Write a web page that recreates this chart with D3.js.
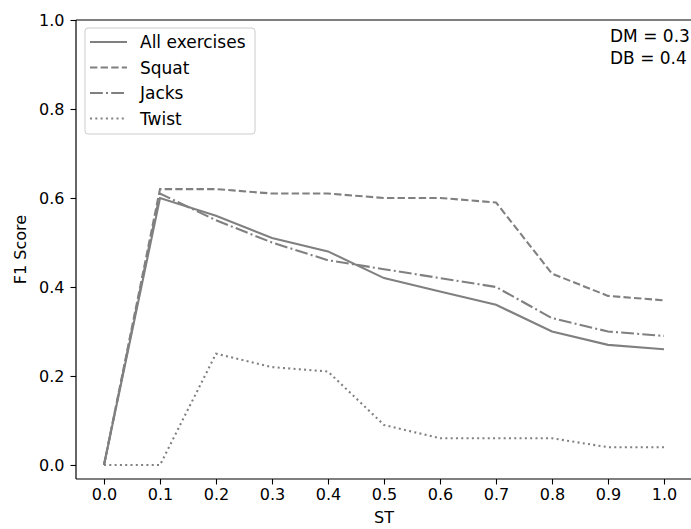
<!DOCTYPE html>
<html>
<head>
<meta charset="utf-8">
<script src="https://cdn.jsdelivr.net/npm/d3@7"></script>
<style>
  body { margin: 0; background: #fff; }
  text { font-family: "DejaVu Sans", sans-serif; }
</style>
</head>
<body>
<div id="vis"></div>
<script>
var stValues = [0.0, 0.1, 0.2, 0.3, 0.4, 0.5, 0.6, 0.7, 0.8, 0.9, 1.0];
var allExercises = [0, 0.60, 0.56, 0.51, 0.48, 0.42, 0.39, 0.36, 0.30, 0.27, 0.26];
var squat = [0, 0.62, 0.62, 0.61, 0.61, 0.60, 0.60, 0.59, 0.43, 0.38, 0.37];
var jacks = [0, 0.61, 0.55, 0.50, 0.46, 0.44, 0.42, 0.40, 0.33, 0.30, 0.29];
var twist = [0, 0, 0.25, 0.22, 0.21, 0.09, 0.06, 0.06, 0.06, 0.04, 0.04];
var seriesNames = ["All exercises", "Squat", "Jacks", "Twist"];
var yTicks = [0.0, 0.2, 0.4, 0.6, 0.8, 1.0];
var notes = ["DM = 0.3", "DB = 0.4"];

function draw() {
  var width = 691, height = 529;
  var left = 76, right = 692, top = 20, bottom = 479;
  var fs = "16px";

  var series = [allExercises, squat, jacks, twist];
  var dashes = [null, "7.4,3.2", "12.8,3.2,2,3.2", "2,3.3"];

  var x = d3.scaleLinear().domain([-0.05, 1.05]).range([left, right]);
  var y = d3.scaleLinear().domain([-0.0315, 1.0]).range([bottom, top]);

  var svg = d3.select("#vis").append("svg")
              .attr("width", width)
              .attr("height", height);

  var line = d3.line()
               .x(function(d, i) { return x(stValues[i]); })
               .y(function(d) { return y(d); });

  series.forEach(function(s, k) {
    svg.append("path")
       .datum(s)
       .attr("d", line)
       .attr("fill", "none")
       .attr("stroke", "#808080")
       .attr("stroke-width", 2.1)
       .attr("stroke-dasharray", dashes[k]);
  });

  var xAxis = svg.append("g")
                 .attr("transform", "translate(0," + bottom + ")")
                 .call(d3.axisBottom(x).tickValues(stValues)
                         .tickFormat(d3.format(".1f")).tickSize(5.5).tickPadding(4));
  var yAxis = svg.append("g")
                 .attr("transform", "translate(" + left + ",0)")
                 .call(d3.axisLeft(y).tickValues(yTicks)
                         .tickFormat(d3.format(".1f")).tickSize(5.5).tickPadding(6));

  [xAxis, yAxis].forEach(function(g) {
    g.select(".domain").remove();
    g.selectAll("line").attr("stroke", "#000").attr("stroke-width", 1.1);
    g.selectAll("text").attr("font-size", fs).attr("fill", "#000")
     .attr("font-family", "DejaVu Sans");
  });

  // spines
  svg.append("line").attr("x1", left).attr("x2", left)
     .attr("y1", top).attr("y2", bottom).attr("stroke", "#000").attr("stroke-width", 1.2);
  svg.append("line").attr("x1", left).attr("x2", right)
     .attr("y1", bottom).attr("y2", bottom).attr("stroke", "#000").attr("stroke-width", 1.2);
  svg.append("line").attr("x1", left).attr("x2", right)
     .attr("y1", top).attr("y2", top).attr("stroke", "#000").attr("stroke-width", 1.2);

  svg.append("text")
     .attr("x", 384)
     .attr("y", 523)
     .attr("text-anchor", "middle")
     .attr("font-size", fs)
     .text("ST");

  svg.append("text")
     .attr("transform", "translate(26," + ((top + bottom) / 2) + ") rotate(-90)")
     .attr("text-anchor", "middle")
     .attr("font-size", fs)
     .text("F1 Score");

  // legend
  var legend = svg.append("g").attr("transform", "translate(85,28)");
  legend.append("rect")
        .attr("width", 170).attr("height", 106)
        .attr("rx", 3)
        .attr("fill", "#fff").attr("fill-opacity", 0.8)
        .attr("stroke", "#ccc");
  seriesNames.forEach(function(name, k) {
    var ly = 14 + k * 25.5;
    legend.append("line")
          .attr("x1", 5).attr("x2", 42)
          .attr("y1", ly).attr("y2", ly)
          .attr("stroke", "#808080").attr("stroke-width", 2.1)
          .attr("stroke-dasharray", dashes[k]);
    legend.append("text")
          .attr("x", 55).attr("y", ly + 6)
          .attr("font-size", "17px")
          .text(name);
  });

  notes.forEach(function(t, k) {
    svg.append("text")
       .attr("x", 610).attr("y", 42 + k * 22)
       .attr("font-size", "17px")
       .text(t);
  });
}

draw();
</script>
</body>
</html>
